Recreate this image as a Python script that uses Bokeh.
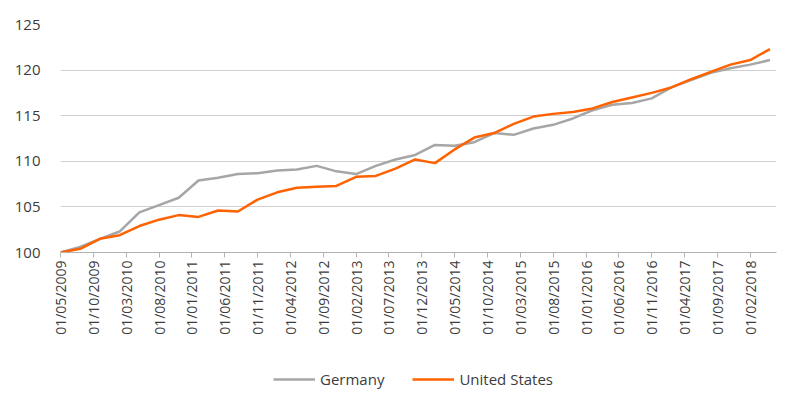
import math
from bokeh.plotting import figure
from bokeh.layouts import column
from bokeh.models import Range1d, FixedTicker, Legend, LegendItem
from bokeh.embed import file_html
from bokeh.resources import INLINE

# Quarterly observations, months since 01/05/2009
months = [3 * i for i in range(37)]
germany = [100.0, 100.6, 101.5, 102.3, 104.4, 105.2, 106.0, 107.9, 108.2, 108.6,
           108.7, 109.0, 109.1, 109.5, 108.9, 108.6, 109.5, 110.2, 110.7, 111.8,
           111.7, 112.1, 113.1, 112.9, 113.6, 114.0, 114.7, 115.6, 116.2, 116.4,
           116.9, 118.1, 118.9, 119.7, 120.2, 120.6, 121.1]
united_states = [100.0, 100.4, 101.5, 101.9, 102.9, 103.6, 104.1, 103.9, 104.6, 104.5,
                 105.8, 106.6, 107.1, 107.2, 107.3, 108.3, 108.4, 109.2, 110.2, 109.8,
                 111.3, 112.6, 113.1, 114.1, 114.9, 115.2, 115.4, 115.8, 116.5, 117.0,
                 117.5, 118.1, 119.0, 119.8, 120.6, 121.1, 122.3]

tick_months = list(range(0, 106, 5))
tick_labels = ["01/05/2009", "01/10/2009", "01/03/2010", "01/08/2010", "01/01/2011",
               "01/06/2011", "01/11/2011", "01/04/2012", "01/09/2012", "01/02/2013",
               "01/07/2013", "01/12/2013", "01/05/2014", "01/10/2014", "01/03/2015",
               "01/08/2015", "01/01/2016", "01/06/2016", "01/11/2016", "01/04/2017",
               "01/09/2017", "01/02/2018"]
y_ticks = [100, 105, 110, 115, 120, 125]
series_names = ["Germany", "United States"]
series_values = [germany, united_states]
series_colors = ["#a6a6a6", "#ff6200"]

FONT = "Open Sans"
TXT = "#3c3c3c"

p = figure(frame_width=716, frame_height=228, output_backend="svg", toolbar_location=None,
           x_range=Range1d(0, 109), y_range=Range1d(100, 125),
           min_border_left=60, min_border_right=8, min_border_top=24,
           min_border_bottom=110)
p.outline_line_color = None
p.background_fill_color = "white"
p.border_fill_color = "white"

for vals, col in zip(series_values, series_colors):
    p.line(months, vals, line_color=col, line_width=2.5)

# x axis
xa = p.xaxis[0]
xa.ticker = FixedTicker(ticks=tick_months)
xa.major_label_overrides = {m: t for m, t in zip(tick_months, tick_labels)}
xa.major_label_orientation = math.pi / 2
xa.axis_line_color = "#b4b4b4"
xa.major_tick_line_color = "#b4b4b4"
xa.major_tick_out = 5
xa.major_tick_in = 0
xa.minor_tick_line_color = None
xa.major_label_text_font = FONT
xa.major_label_text_font_size = "14px"
xa.major_label_text_color = TXT
xa.major_label_standoff = 3

# y axis
ya = p.yaxis[0]
ya.ticker = FixedTicker(ticks=y_ticks)
ya.axis_line_color = None
ya.major_tick_line_color = None
ya.minor_tick_line_color = None
ya.major_label_text_font = FONT
ya.major_label_text_font_size = "15px"
ya.major_label_text_color = TXT
ya.major_label_standoff = 14

p.xgrid.grid_line_color = None
p.ygrid.ticker = FixedTicker(ticks=y_ticks)
p.ygrid.grid_line_color = "#cfcfcf"
p.ygrid.grid_line_width = 1

# legend strip (series lines lie outside its visible range; only the legend shows)
lf = figure(width=784, height=34, output_backend="svg", toolbar_location=None,
            x_range=Range1d(0, 1), y_range=Range1d(0, 1),
            min_border_left=0, min_border_right=18, min_border_top=0,
            min_border_bottom=0)
lf.axis.visible = False
lf.grid.visible = False
lf.outline_line_color = None
lf.border_fill_color = "white"
items = []
for name, vals, col in zip(series_names, series_values, series_colors):
    r = lf.line(months, vals, line_color=col, line_width=2.5)
    items.append(LegendItem(label=name, renderers=[r]))
legend = Legend(items=items, orientation="horizontal", location="center",
                label_text_font=FONT, label_text_font_size="15px",
                label_text_color=TXT, glyph_width=42, spacing=28,
                border_line_color=None, background_fill_alpha=0,
                margin=0, padding=4)
lf.add_layout(legend, "center")

open("out.html", "w").write(file_html(column(p, lf, spacing=0), INLINE))
